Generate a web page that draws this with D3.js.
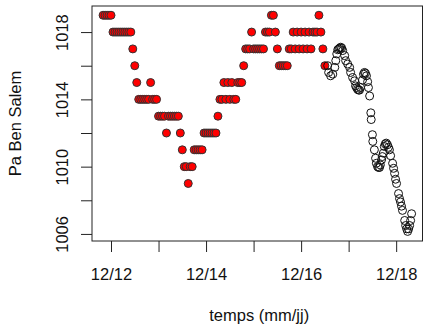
<!DOCTYPE html>
<html>
<head>
<meta charset="utf-8">
<script src="https://cdn.jsdelivr.net/npm/d3@7"></script>
<style>
  body { margin: 0; background: #fff; }
  svg { display: block; font-family: "Liberation Sans", Arial, sans-serif; }
</style>
</head>
<body>
<svg id="chart" width="424" height="328"></svg>
<script>
// hours since 12/12 00:00, observed pressure (hPa, rounded)
const obsHours = [-4,-3,-2,-1,0, 1,2,3,4,5,6,7,8,9,10, 11, 12, 13,
  14,15,16,17,18,19, 20, 21,22,23, 24,25,26,27, 28, 29,30,31,32,33,34, 35, 36,
  37,38, 39, 40,41, 42,43,44,45,46, 47,48,49,50,51,52,53, 54,
  55,56,57,58,59,60,61,62,63,64,65,66, 67, 68,69,70, 71, 72,73,74,75,76,77,
  78,79,80, 81,82, 83, 84, 85,86,87,88,89, 90,91,92,93,94,95,96,97,98,99,100,101,
  102,103,104, 105, 106, 107, 108];
const obsPa = [1019,1019,1019,1019,1019, 1018,1018,1018,1018,1018,1018,1018,1018,1018,1018, 1017, 1016, 1015,
  1014,1014,1014,1014,1014,1014, 1015, 1014,1014,1014, 1013,1013,1013,1013, 1012, 1013,1013,1013,1013,1013,1013, 1012, 1011,
  1010,1010, 1009, 1010,1010, 1011,1011,1011,1011,1011, 1012,1012,1012,1012,1012,1012,1012, 1013,
  1014,1014,1015,1014,1015,1014,1015,1014,1014,1015,1015,1015, 1016, 1017,1017,1017, 1018, 1017,1017,1017,1017,1017,1017,
  1018,1018,1018, 1019,1019, 1018, 1017, 1016,1016,1016,1016,1016, 1017,1017,1018,1017,1018,1017,1018,1017,1018,1017,1018,1017,
  1018,1018,1018, 1019, 1018, 1017, 1016];

// hours since 12/12 00:00, forecast pressure (hPa)
const fcHours = [109.4,109.9,110.9,112.0,113.0,113.5,114.0,114.5,115.0,115.5,116.0,116.5,117.0,
  118.0,118.5,119.5,120.5,121.0,122.0,123.0,123.5,124.0,124.5,125.0,125.5,126.0,127.0,127.5,
  128.0,128.5,129.0,129.6,130.0,130.6,131.2,131.4,132.0,132.2,133.0,133.6,134.0,134.6,135.1,
  135.6,136.0,136.6,137.0,137.5,138.0,138.5,139.0,139.6,140.1,140.6,141.2,142.2,142.7,143.2,
  143.7,144.2,145.2,145.7,146.2,146.7,147.2,148.3,148.8,149.3,149.8,150.3,150.8,151.3,151.8];
const fcPa = [1016.0,1015.6,1015.4,1015.5,1015.9,1016.3,1016.7,1016.95,1017.0,1017.05,1017.1,1017.05,1016.9,
  1016.6,1016.3,1016.1,1015.9,1015.6,1015.3,1015.1,1014.8,1014.7,1014.6,1014.55,1014.55,1014.7,1015.15,1015.5,
  1015.6,1015.55,1015.4,1015.05,1014.7,1014.2,1013.2,1012.8,1011.9,1011.5,1011.0,1010.5,1010.2,1010.0,1009.95,
  1009.95,1010.1,1010.4,1010.6,1010.8,1011.2,1011.35,1011.4,1011.3,1011.15,1011.0,1010.65,1010.2,1009.9,1009.6,
  1009.25,1009.0,1008.4,1008.1,1007.9,1007.65,1007.4,1006.8,1006.5,1006.3,1006.15,1006.3,1006.5,1006.8,1007.2];

const yTicks = [1006, 1008, 1010, 1012, 1014, 1016, 1018];
const yTickLabels = [1006, 1010, 1014, 1018];
const xLabelDays = ["12/12", "12/14", "12/16", "12/18"];

const base = Date.UTC(2021, 11, 12);
const toDate = h => new Date(base + h * 3600e3);

const plotL = 92, plotR = 422.5, plotT = 6, plotB = 241;
const svg = d3.select("#chart");

const x = d3.scaleUtc()
  .domain([toDate(-9.6), toDate(157.3)])
  .range([plotL, plotR]);
const y = d3.scaleLinear()
  .domain([1005.58, 1019.55])
  .range([plotB, plotT]);

const fmt = d3.utcFormat("%m/%d");

const xAxis = svg.append("g")
  .attr("transform", `translate(0,${plotB})`)
  .call(d3.axisBottom(x)
    .ticks(d3.utcDay.every(1))
    .tickSize(11)
    .tickPadding(16)
    .tickFormat(d => xLabelDays.includes(fmt(d)) ? fmt(d) : ""));
xAxis.select(".domain").remove();
xAxis.selectAll("line").attr("stroke", "#222");
xAxis.selectAll("text").attr("font-size", 16.5).attr("fill", "#111")
  .attr("font-family", "Liberation Sans, Arial, sans-serif");

// R drops the labels that would overlap, so only every other one is shown
const yAxis = svg.append("g")
  .attr("transform", `translate(${plotL},0)`)
  .call(d3.axisLeft(y).tickValues(yTicks).tickSize(11)
    .tickFormat(d => yTickLabels.includes(d) ? d3.format("d")(d) : ""));
yAxis.select(".domain").remove();
yAxis.selectAll("line").attr("stroke", "#222");
yAxis.selectAll("text")
  .attr("x", null).attr("dy", null)
  .attr("text-anchor", "middle")
  .attr("transform", "translate(-24,0) rotate(-90)")
  .attr("font-size", 16.5).attr("fill", "#111")
  .attr("font-family", "Liberation Sans, Arial, sans-serif");

// frame
svg.append("rect")
  .attr("x", plotL).attr("y", plotT)
  .attr("width", plotR - plotL).attr("height", plotB - plotT)
  .attr("fill", "none").attr("stroke", "#222").attr("stroke-width", 1);

// observations: red filled
svg.append("g")
  .selectAll("circle")
  .data(obsHours.map((h, i) => ({ t: toDate(h), v: obsPa[i] })))
  .join("circle")
  .attr("cx", d => x(d.t))
  .attr("cy", d => y(d.v))
  .attr("r", 4)
  .attr("fill", "#ff0000")
  .attr("stroke", "#333")
  .attr("stroke-width", 1);

// forecast: open black
svg.append("g")
  .selectAll("circle")
  .data(fcHours.map((h, i) => ({ t: toDate(h), v: fcPa[i] })))
  .join("circle")
  .attr("cx", d => x(d.t))
  .attr("cy", d => y(d.v))
  .attr("r", 4)
  .attr("fill", "none")
  .attr("stroke", "#111")
  .attr("stroke-width", 1);

// axis titles
svg.append("text")
  .attr("x", (plotL + plotR) / 2 + 2).attr("y", 321)
  .attr("text-anchor", "middle")
  .attr("font-size", 16.5).attr("fill", "#111")
  .text("temps (mm/jj)");

svg.append("text")
  .attr("transform", `translate(21,${(plotT + plotB) / 2}) rotate(-90)`)
  .attr("text-anchor", "middle")
  .attr("font-size", 16.5).attr("fill", "#111")
  .text("Pa Ben Salem");
</script>
</body>
</html>
